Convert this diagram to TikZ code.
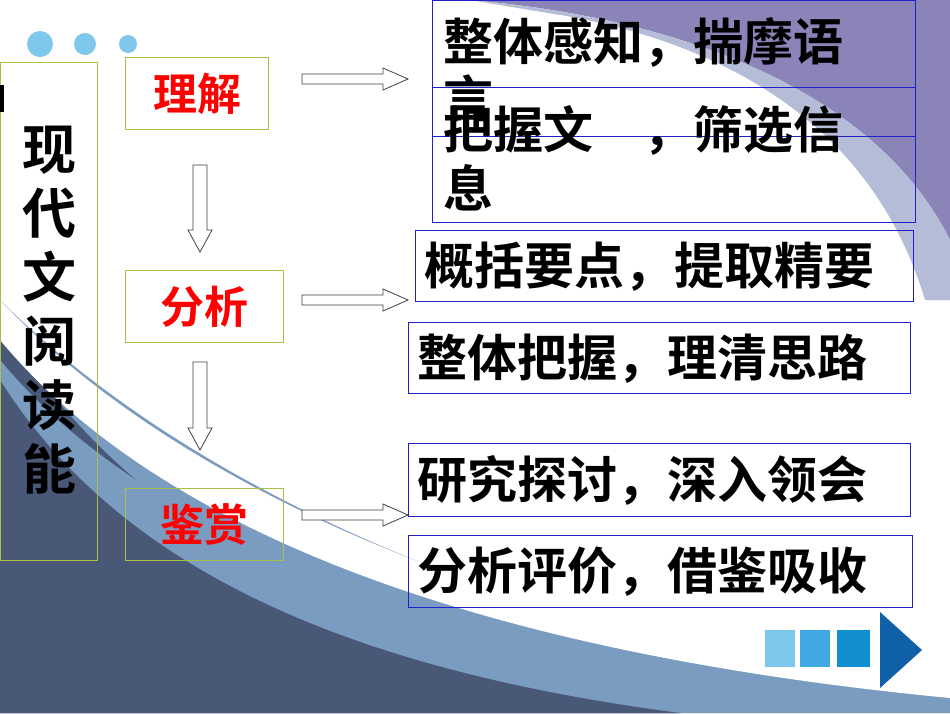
\documentclass[tikz,border=0pt]{standalone}
\usepackage{fontspec}
\newfontfamily\cjk{Noto Sans CJK SC}[BoldFont={Noto Sans CJK SC Bold}]
\definecolor{navy}{HTML}{4A5878}
\definecolor{band}{HTML}{7A9CC0}
\definecolor{purp}{HTML}{8A84B8}
\definecolor{lpurp}{HTML}{B4BCD8}
\definecolor{gbox}{HTML}{A8C048}
\definecolor{bbox}{HTML}{2020C8}
\definecolor{dot}{HTML}{7EC8EC}
\definecolor{nav2}{HTML}{40A8E0}
\definecolor{nav3}{HTML}{1090D0}
\definecolor{nav4}{HTML}{1060A8}
\begin{document}
\begin{tikzpicture}[x=1pt,y=-1pt,
  lbl/.style={draw=gbox,line width=1pt,anchor=north west,font=\cjk\bfseries\fontsize{44}{48}\selectfont,text=red,inner sep=8pt},
  rbox/.style={draw=bbox,line width=1pt,anchor=north west,inner sep=0pt},
  rtxt/.style={anchor=west,font=\cjk\bfseries\fontsize{50}{54}\selectfont},
  arr/.style={draw=black!75,fill=white,line width=0.8pt}]
\useasboundingbox (0,0) rectangle (950,713);
\fill[white] (0,0) rectangle (950,713);
% background
\fill[purp] (470,0) .. controls (700,20) and (880,100) .. (950,240) -- (950,0) -- cycle;
\fill[lpurp] (560,15) .. controls (760,50) and (880,150) .. (925,300) -- (950,300) -- (950,240) .. controls (880,100) and (700,20) .. (470,0) -- cycle;
\fill[white] (560,40) .. controls (760,70) and (860,170) .. (900,320) -- (925,320) .. controls (880,150) and (760,50) .. (560,15) -- cycle;
\fill[band] (0,300) .. controls (150,450) and (450,630) .. (950,695) -- (950,713) -- (0,713) -- cycle;
\fill[navy] (0,320) .. controls (120,520) and (350,650) .. (680,713) -- (0,713) -- cycle;
\fill[white] (0,340) .. controls (150,520) and (450,650) .. (950,698) -- (950,690) .. controls (450,625) and (150,460) .. (0,300)-- cycle;
\fill[band] (0,360) .. controls (150,540) and (450,660) .. (950,703) -- (950,713) -- (0,713) -- cycle;
\fill[navy] (0,380) .. controls (120,570) and (350,670) .. (680,713) -- (0,713) -- cycle;
% dots
\fill[dot] (40,44) circle (13) (85,44) circle (11) (128,44) circle (9);
% left box
\node[draw=gbox,line width=1pt,anchor=north west,minimum width=97pt,minimum height=498pt,inner sep=0pt] (main) at (0,62) {};
\fill[black] (0,85) rectangle (4,112);
\node[font=\cjk\bfseries\fontsize{54}{64}\selectfont,align=center] (maint) at (50,310) {现\\代\\文\\阅\\读\\能};
% labels
\node[lbl,minimum width=143pt,minimum height=72pt] (l1) at (125,57) {理解};
\node[lbl,minimum width=158pt,minimum height=72pt] (l2) at (125,270) {分析};
\node[lbl,minimum width=158pt,minimum height=72pt] (l3) at (125,488) {鉴赏};
% arrows
\foreach \y in {79,300,515}{
  \draw[arr] (302,\y-5) -- (383,\y-5) -- (383,\y-11) -- (408,\y) -- (383,\y+11) -- (383,\y+5) -- (302,\y+5) -- cycle;}
\foreach \y/\h in {165/252,362/450}{
  \draw[arr] (193,\y) -- (207,\y) -- (207,\h-22) -- (212,\h-22) -- (200,\h) -- (188,\h-22) -- (193,\h-22) -- cycle;}
% right boxes
\node[rbox,minimum width=483pt,minimum height=87pt] (b1) at (432,0) {};
\node[rbox,minimum width=483pt,minimum height=49pt] (b2) at (432,87) {};
\node[rbox,minimum width=483pt,minimum height=86pt] (b3) at (432,136) {};
\node[rtxt] (t1) at (440,42) {整体感知，揣摩语};
\node[rtxt] (t1b) at (440,98) {言};
\node[rtxt] (t2) at (440,130) {把握文\hspace{50pt}，筛选信};
\node[rtxt] (t2b) at (440,188) {息};
\node[rbox,minimum width=498pt,minimum height=71pt] (b4) at (415,230) {};
\node[rtxt] (t4) at (421,267) {概括要点，提取精要};
\node[rbox,minimum width=502pt,minimum height=71pt] (b5) at (408,322) {};
\node[rtxt] (t5) at (414,359) {整体把握，理清思路};
\node[rbox,minimum width=502pt,minimum height=73pt] (b6) at (408,443) {};
\node[rtxt] (t6) at (414,480) {研究探讨，深入领会};
\node[rbox,minimum width=504pt,minimum height=72pt] (b7) at (408,535) {};
\node[rtxt] (t7) at (414,572) {分析评价，借鉴吸收};
% nav
\fill[dot] (765,630) rectangle (795,667);
\fill[nav2] (800,630) rectangle (830,667);
\fill[nav3] (837,630) rectangle (870,667);
\fill[nav4] (880,612) -- (922,650) -- (880,688) -- cycle;
\end{tikzpicture}
\end{document}
